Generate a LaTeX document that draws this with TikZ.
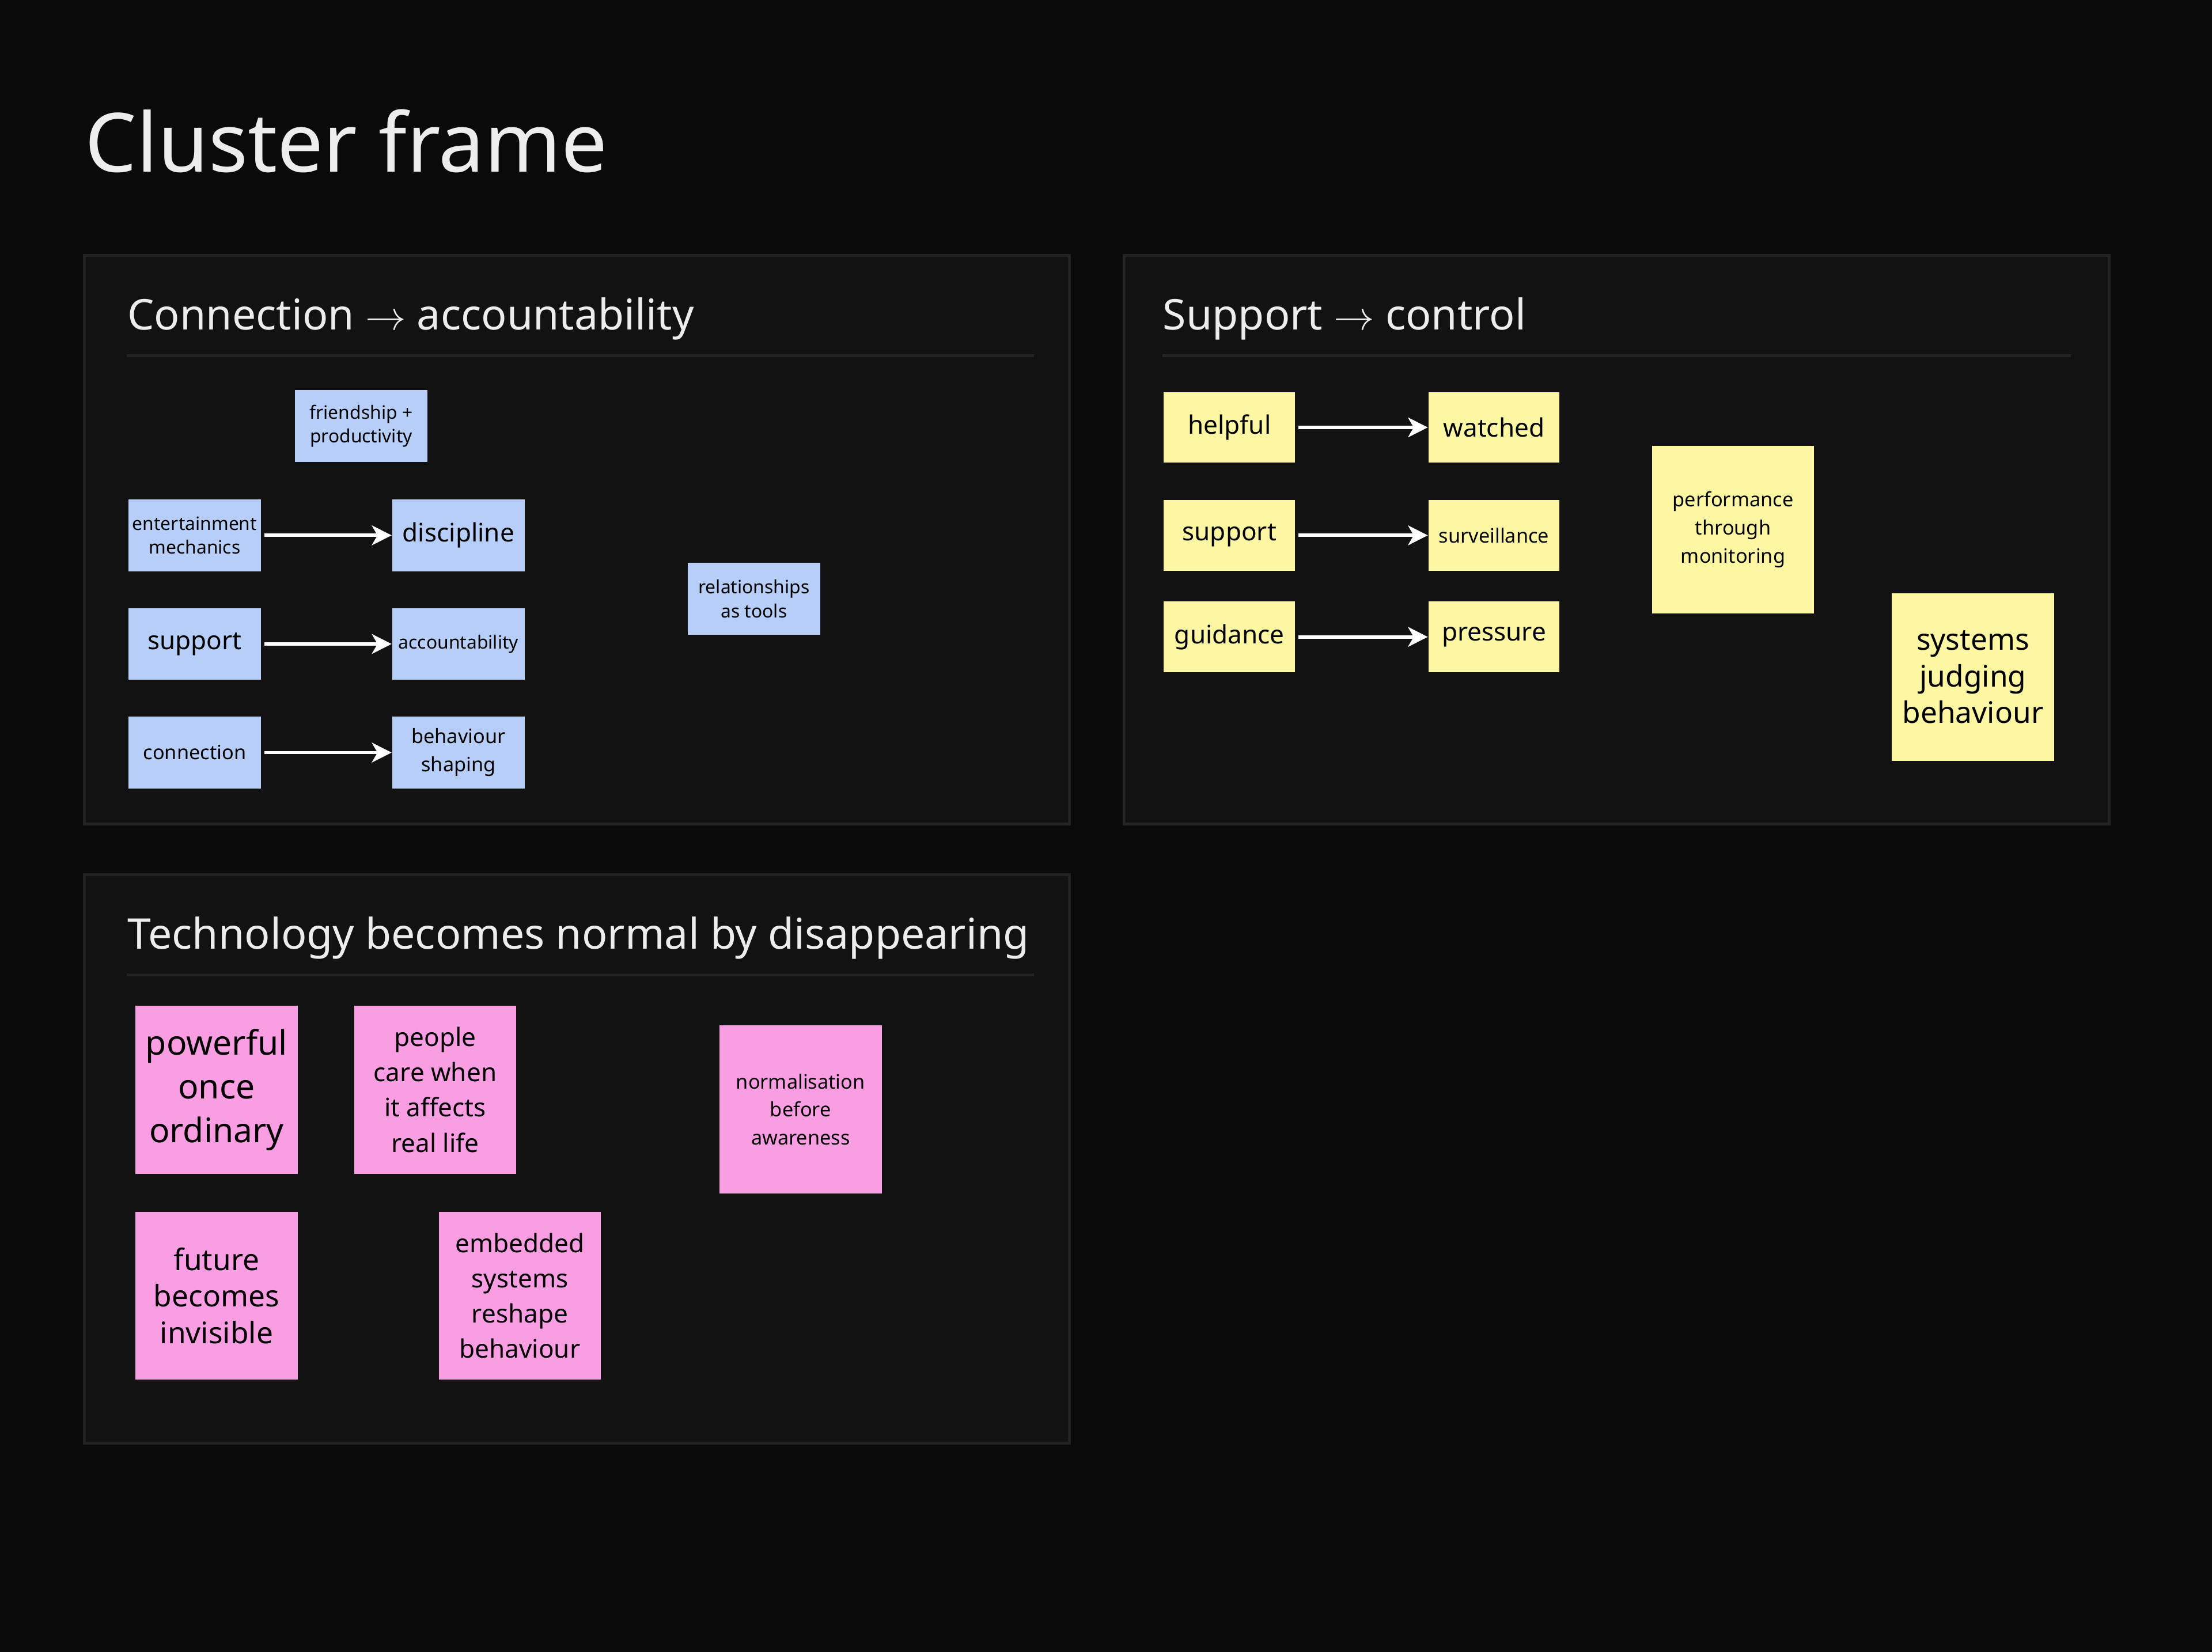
\documentclass[tikz,border=0pt]{standalone}
\usepackage{fontspec}
\setmainfont{Noto Sans}
\usetikzlibrary{arrows.meta}
\definecolor{bg}{HTML}{0A0A0A}
\definecolor{fr}{HTML}{121212}
\definecolor{frb}{HTML}{232323}
\definecolor{blu}{HTML}{B6CEF8}
\definecolor{yel}{HTML}{FDF6A3}
\definecolor{pnk}{HTML}{FA9EE3}
\definecolor{txt}{HTML}{EDEDED}
\tikzset{
 frame/.style={draw=frb,fill=fr,line width=1pt},
 ftitle/.style={anchor=west,text=txt,font=\fontsize{15}{18}\selectfont,inner sep=0},
 note/.style={inner sep=1pt,align=center,text=black,minimum width=#1},
 bn/.style={note=47pt,minimum height=25.5pt,fill=blu},
 yn/.style={note=46.5pt,minimum height=25pt,fill=yel},
 big/.style={note=57.5pt,minimum height=59.5pt},
 ar/.style={draw=white,line width=1.2pt,-{Stealth[length=7pt,width=7pt,inset=2pt]}},
 s13/.style={font=\fontsize{6.5}{8.5}\selectfont},
 s14/.style={font=\fontsize{7}{10}\selectfont},
 s19/.style={font=\fontsize{9}{11}\selectfont},
 s19l/.style={font=\fontsize{9}{12.5}\selectfont},
 s21/.style={font=\fontsize{10.5}{13}\selectfont},
 s24/.style={font=\fontsize{12}{15.5}\selectfont},
}
\begin{document}
\begin{tikzpicture}[x=0.5pt,y=-0.5pt]
\fill[bg] (0,0) rectangle (1568,1171);
\useasboundingbox (0,0) rectangle (1568,1171);
\node[anchor=base west,text=txt,font=\fontsize{29}{32}\selectfont,inner sep=0] (title) at (60,122) {Cluster frame};
% frames
\draw[frame] (60,181) rectangle (758,584);
\draw[frame] (797,181) rectangle (1495,584);
\draw[frame] (60,620) rectangle (758,1023);
\node[ftitle] (t1) at (90,226) {Connection $\rightarrow$ accountability};
\node[ftitle] (t2) at (824,226) {Support $\rightarrow$ control};
\node[ftitle] (t3) at (90,665) {Technology becomes normal by disappearing};
\draw[frb,line width=1pt] (90,252) -- (733,252);
\draw[frb,line width=1pt] (824,252) -- (1468,252);
\draw[frb,line width=1pt] (90,691) -- (733,691);
% blue
\node[bn,s13] (fp) at (256,302) {friendship +\\productivity};
\node[bn,s13] (em) at (138,379.5) {entertainment\\mechanics};
\node[bn,s19] (di) at (325,379.5) {discipline};
\node[bn,s19] (su) at (138,456.5) {support};
\node[bn,s13] (ac) at (325,456.5) {accountability};
\node[bn,s14] (co) at (138,533.5) {connection};
\node[bn,s14] (bs) at (325,533.5) {behaviour\\shaping};
\node[bn,s13] (rt) at (534.5,424.5) {relationships\\as tools};
\draw[ar] ([xshift=1pt]em.east) -- (di.west);
\draw[ar] ([xshift=1pt]su.east) -- (ac.west);
\draw[ar] ([xshift=1pt]co.east) -- (bs.west);
% yellow
\node[yn,s19] (he) at (871.5,303) {helpful};
\node[yn,s19] (wa) at (1059,303) {watched};
\node[yn,s19] (sp) at (871.5,379.5) {support};
\node[yn,s14] (sv) at (1059,379.5) {surveillance};
\node[yn,s19] (gu) at (871.5,451.5) {guidance};
\node[yn,s19] (pr) at (1059,451.5) {pressure};
\draw[ar] ([xshift=1pt]he.east) -- (wa.west);
\draw[ar] ([xshift=1pt]sp.east) -- (sv.west);
\draw[ar] ([xshift=1pt]gu.east) -- (pr.west);
\node[big,fill=yel,s14] (pm) at (1228.5,375.5) {performance\\through\\monitoring};
\node[big,fill=yel,s21] (sj) at (1398.5,480) {systems\\judging\\behaviour};
% pink
\node[big,fill=pnk,s24] (po) at (153.5,772.5) {powerful\\once\\ordinary};
\node[big,fill=pnk,s19l] (pc) at (308.5,772.5) {people\\care when\\it affects\\real life};
\node[big,fill=pnk,s14] (nb) at (567.5,786.5) {normalisation\\before\\awareness};
\node[big,fill=pnk,s21] (fb) at (153.5,918.5) {future\\becomes\\invisible};
\node[big,fill=pnk,s19l] (es) at (368.5,918.5) {embedded\\systems\\reshape\\behaviour};
\end{tikzpicture}
\end{document}
